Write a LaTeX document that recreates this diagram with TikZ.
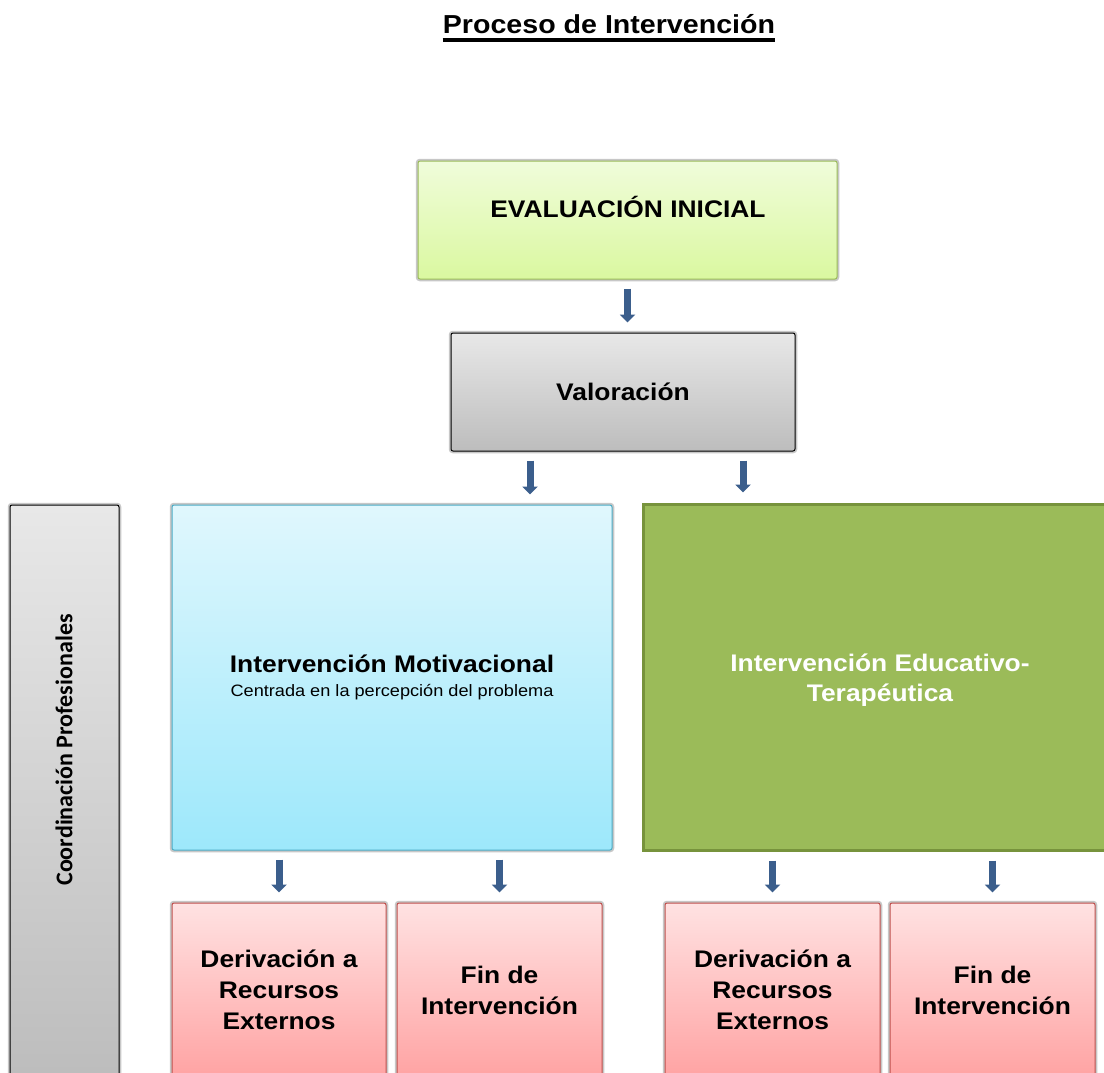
\documentclass[tikz,border=0pt]{standalone}
\usepackage{fontspec}
\setmainfont{Liberation Sans}[FakeStretch=1.1]
\newfontfamily\coordfont{Carlito}
\usetikzlibrary{arrows.meta}

\definecolor{arrowblue}{RGB}{59,94,140}
\definecolor{evaltop}{RGB}{240,252,218}
\definecolor{evalbot}{RGB}{218,248,160}
\definecolor{evaledge}{RGB}{155,187,89}
\definecolor{motitop}{RGB}{224,247,253}
\definecolor{motibot}{RGB}{157,232,251}
\definecolor{motiedge}{RGB}{75,172,198}
\definecolor{edufill}{RGB}{155,187,89}
\definecolor{eduedge}{RGB}{119,147,60}
\definecolor{redtop}{RGB}{255,226,226}
\definecolor{redbot}{RGB}{255,163,163}
\definecolor{rededge}{RGB}{192,80,77}
\newcommand{\bighead}{\fontsize{24}{31}\selectfont\bfseries}

\begin{document}
\begin{tikzpicture}[x=1pt,y=-1pt,
  box/.style={rectangle,rounded corners=2pt,inner sep=0pt,align=center,line width=1pt,
              preaction={draw=black!22,line width=4.5pt}},
  graybox/.style={box,draw=black,top color=black!9,bottom color=black!26},
  redbox/.style={box,draw=rededge,top color=redtop,bottom color=redbot,
                 minimum height=174pt,font=\bighead},
  flow/.style={-{Triangle[width=15pt,length=8pt]},line width=7pt,draw=arrowblue,
               shorten <=9pt,shorten >=10pt}]
\clip (0,0) rectangle (1104,1072);

% title
\node[inner sep=0pt,anchor=base,font=\fontsize{26}{30}\selectfont\bfseries] (title) at (609,33)
  {Proceso de Intervención};
\draw[line width=3.5pt] ([yshift=-7pt]title.base west) -- ([yshift=-7pt]title.base east);

% upper column
\node[box,draw=evaledge,top color=evaltop,bottom color=evalbot,
      minimum width=419pt,minimum height=118pt] (eval) at (627.5,220) {};
\node[inner sep=0pt,anchor=base,font=\bighead] (evaltxt) at (628,217) {EVALUACIÓN INICIAL};
\node[graybox,minimum width=344pt,minimum height=118pt,font=\bighead] (val) at (623,392)
  {Valoración};

% side bar
\node[graybox,minimum width=109pt,minimum height=572pt] (coord) at (64.5,791) {};
\node[rotate=90,inner sep=0pt,font=\coordfont\fontsize{24}{28}\selectfont\bfseries] (coordtxt)
  at (64,750) {Coordinación Profesionales};

% the two interventions
\node[box,draw=motiedge,top color=motitop,bottom color=motibot,
      minimum width=440pt,minimum height=345pt,font=\fontsize{16.5}{24}\selectfont] (moti)
  at (392,677.5)
  {{\fontsize{24}{24}\selectfont\bfseries Intervención Motivacional}\\
   Centrada en la percepción del problema};
\node[rectangle,inner sep=0pt,align=center,draw=eduedge,fill=edufill,line width=3pt,
      minimum width=474pt,minimum height=346pt] (edu) at (880,677) {};
\node[inner sep=0pt,align=center,text=white,font=\fontsize{24}{30}\selectfont\bfseries]
  (edutxt) at (880,680) {Intervención Educativo-\\Terapéutica};

% outcomes
\node[redbox,minimum width=214pt] (derA) at (279,990) {Derivación a\\Recursos\\Externos};
\node[redbox,minimum width=205pt] (finA) at (499.5,990) {Fin de\\Intervención};
\node[redbox,minimum width=215pt] (derB) at (772.5,990) {Derivación a\\Recursos\\Externos};
\node[redbox,minimum width=205pt] (finB) at (992.5,990) {Fin de\\Intervención};

% arrows
\draw[flow] (eval.south) -- (eval.south |- val.north);
\draw[flow] ([xshift=-93pt]val.south) -- ([xshift=-93pt]val.south |- moti.north);
\draw[flow] ([xshift=120pt]val.south) -- ([xshift=120pt]val.south |- edu.north);
\draw[flow] (derA.north |- moti.south) -- (derA.north);
\draw[flow] (finA.north |- moti.south) -- (finA.north);
\draw[flow] (derB.north |- edu.south) -- (derB.north);
\draw[flow] (finB.north |- edu.south) -- (finB.north);
\end{tikzpicture}
\end{document}
